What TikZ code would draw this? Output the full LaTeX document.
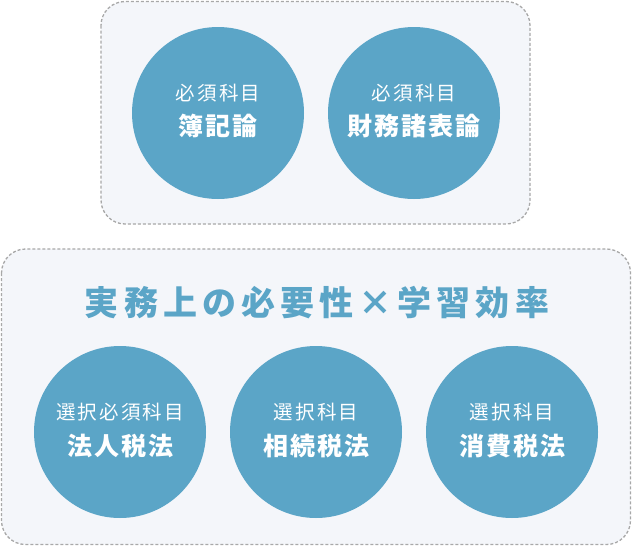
\documentclass[tikz,border=0pt]{standalone}
\usepackage{fontspec}
\newfontfamily\jp{Noto Sans CJK JP}
\usetikzlibrary{positioning}
\definecolor{subjblue}{HTML}{5BA5C7}
\definecolor{boxfill}{HTML}{F4F6FA}
\definecolor{boxline}{HTML}{A8A8A8}
\tikzset{
	group/.style={draw=boxline, fill=boxfill, line width=1.3pt, dash pattern=on 3pt off 2pt, rounded corners=24pt},
	subject/.style={circle, fill=subjblue, minimum size=172pt, inner sep=0pt},
	kind/.style={text=white, font=\jp\fontsize{19.5}{20}\selectfont\addfontfeatures{LetterSpace=11}},
	course/.style={text=white, font=\jp\bfseries\fontsize{25}{26}\selectfont\addfontfeatures{LetterSpace=8}},
	headline/.style={text=subjblue, font=\jp\bfseries\fontsize{34}{35}\selectfont\addfontfeatures{LetterSpace=15}}
}
\begin{document}
\begin{tikzpicture}[x=1pt, y=-1pt]
			%%%%% START %%%%%
			\useasboundingbox (0,0) rectangle (632,546);
			
			% required group
			\draw[group] (101,1.5) rectangle (530,224);
			\node[subject] (boki) at (218,113) {};
			\node[kind] at ([yshift=20pt]boki.center) {必須科目};
			\node[course] at ([yshift=-13pt]boki.center) {簿記論};
			\node[subject] (zaimu) at (414,113) {};
			\node[kind] at ([yshift=20pt]zaimu.center) {必須科目};
			\node[course] at ([yshift=-13pt]zaimu.center) {財務諸表論};
			
			% elective group
			\draw[group] (1.5,249) rectangle (630.5,544.5);
			\node[headline] (title) at (317,303) {実務上の必要性×学習効率};
			
			\node[subject] (hojin) at (120,432) {};
			\node[kind] at ([yshift=20pt]hojin.center) {選択必須科目};
			\node[course] at ([yshift=-14pt]hojin.center) {法人税法};
			\node[subject] (sozoku) at (316,432) {};
			\node[kind] at ([yshift=20pt]sozoku.center) {選択科目};
			\node[course] at ([yshift=-14pt]sozoku.center) {相続税法};
			\node[subject] (shohi) at (512,432) {};
			\node[kind] at ([yshift=20pt]shohi.center) {選択科目};
			\node[course] at ([yshift=-14pt]shohi.center) {消費税法};
			%%%%% END %%%%%
\end{tikzpicture}
\end{document}
